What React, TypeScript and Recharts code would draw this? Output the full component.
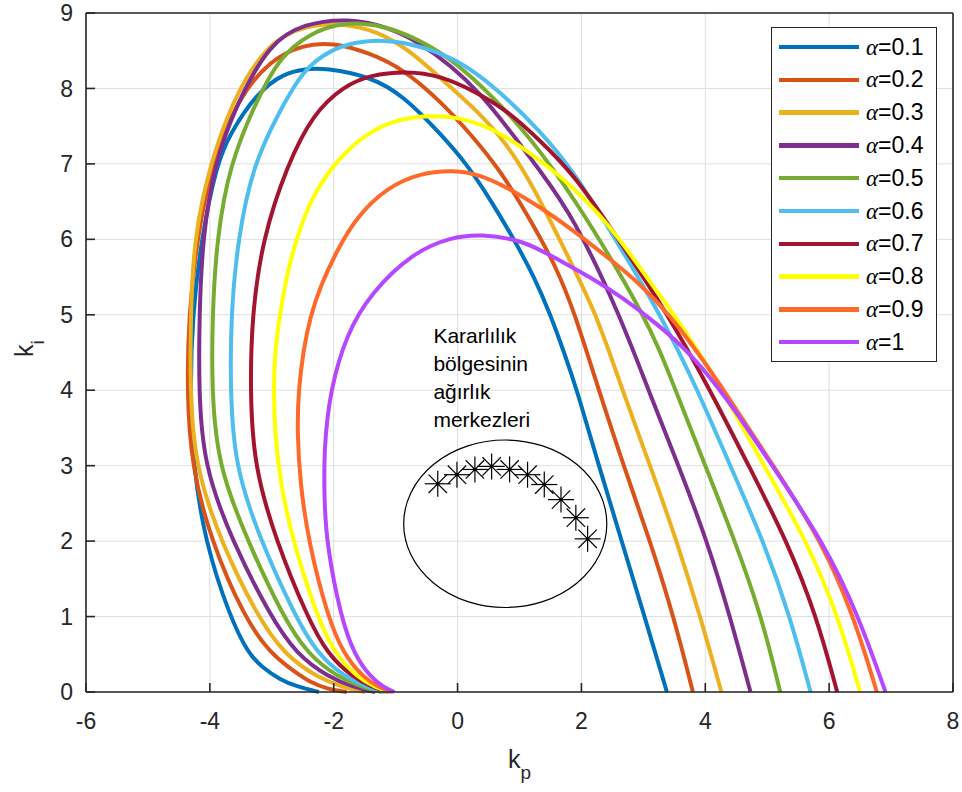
import React from 'react';
import {
  ComposedChart,
  Line,
  Scatter,
  XAxis,
  YAxis,
  CartesianGrid,
  ReferenceArea,
  ReferenceDot,
} from 'recharts';

type Pt = [number, number];

// stability boundaries, [kp, ki] pairs
const alpha01: Pt[] = [
  [-2.24, 0], [-2.59, 0.07], [-2.86, 0.16], [-3.16, 0.33], [-3.38, 0.51], [-3.68, 1.0], [-4.08, 2.0],
  [-4.27, 3.0], [-4.32, 4.0], [-4.28, 5.0], [-4.14, 6.0], [-3.89, 7.0], [-3.67, 7.41], [-3.24, 7.94],
  [-2.81, 8.2], [-2.45, 8.26], [-2.14, 8.27], [-1.41, 8.16], [-0.87, 7.9], [-0.3, 7.42], [0.15, 7.0],
  [0.55, 6.5], [0.91, 6.0], [1.24, 5.5], [1.5, 5.0], [1.72, 4.5], [1.93, 4.0], [2.28, 3.0], [2.65, 2.0],
  [3.02, 1.0], [3.38, 0],
];
const alpha02: Pt[] = [
  [-1.79, 0], [-2.11, 0.04], [-2.38, 0.13], [-2.6, 0.25], [-3.03, 0.51], [-3.45, 1.0], [-3.98, 2.0],
  [-4.3, 3.0], [-4.37, 4.0], [-4.34, 5.0], [-4.21, 6.0], [-3.97, 7.0], [-3.56, 7.85], [-3.03, 8.38],
  [-2.49, 8.58], [-2.03, 8.61], [-1.41, 8.47], [-0.87, 8.25], [-0.3, 7.85], [0.23, 7.38], [0.69, 6.91],
  [1.12, 6.34], [1.6, 5.63], [1.9, 5.0], [2.28, 4.0], [2.68, 3.0], [3.11, 2.0], [3.49, 1.0], [3.8, 0],
];
const alpha03: Pt[] = [
  [-1.49, 0], [-1.84, 0.06], [-2.28, 0.2], [-2.8, 0.5], [-3.23, 1.0], [-3.83, 2.0], [-4.24, 3.0],
  [-4.32, 4.0], [-4.31, 5.0], [-4.26, 6.0], [-4.0, 7.0], [-3.62, 7.85], [-3.24, 8.38], [-2.86, 8.7],
  [-2.33, 8.85], [-1.84, 8.86], [-1.3, 8.76], [-0.8, 8.52], [-0.28, 8.14], [0.26, 7.75], [0.8, 7.27],
  [1.23, 6.69], [1.76, 5.81], [2.25, 5.0], [2.66, 4.0], [3.11, 3.0], [3.54, 2.0], [3.92, 1.0], [4.26, 0],
];
const alpha04: Pt[] = [
  [-1.33, 0], [-1.67, 0.06], [-2.09, 0.2], [-2.6, 0.5], [-3.02, 1.0], [-3.64, 2.0],
  [-4.1, 3.0], [-4.18, 4.0], [-4.17, 5.0], [-4.12, 6.0], [-3.93, 7.0], [-3.54, 7.85], [-3.03, 8.6],
  [-2.49, 8.86], [-1.76, 8.93], [-1.14, 8.82], [-0.6, 8.6], [-0.1, 8.3], [0.37, 7.93], [0.8, 7.49],
  [1.33, 6.91], [1.87, 6.3], [2.62, 5.0], [3.08, 4.0], [3.57, 3.0], [4.03, 2.0], [4.4, 1.0], [4.73, 0],
];
const alpha05: Pt[] = [
  [-1.22, 0], [-1.54, 0.06], [-1.94, 0.2], [-2.42, 0.5], [-2.82, 1.0], [-3.39, 2.0],
  [-3.87, 3.0], [-3.97, 4.0], [-3.96, 5.0], [-3.89, 6.0], [-3.68, 7.0], [-3.24, 7.85], [-2.86, 8.43],
  [-2.38, 8.73], [-1.95, 8.85], [-1.57, 8.87], [-1.14, 8.82], [-0.55, 8.62], [-0.01, 8.34], [0.8, 7.71],
  [1.55, 6.95], [2.3, 6.0], [3.0, 5.0], [3.28, 4.5], [3.52, 4.0], [4.0, 3.0], [4.48, 2.0], [4.91, 1.0], [5.21, 0],
];
const alpha06: Pt[] = [
  [-1.17, 0], [-1.46, 0.06], [-1.82, 0.2], [-2.26, 0.5], [-2.62, 1.0], [-3.18, 2.0],
  [-3.6, 3.0], [-3.67, 4.0], [-3.66, 5.0], [-3.55, 6.0], [-3.3, 7.0], [-2.86, 7.72], [-2.49, 8.25],
  [-2.06, 8.51], [-1.63, 8.62], [-1.19, 8.64], [-0.76, 8.6], [-0.01, 8.4], [0.66, 7.98], [1.33, 7.44],
  [1.87, 6.91], [2.55, 6.0], [3.28, 5.0], [3.88, 4.0], [4.4, 3.0], [4.94, 2.0], [5.37, 1.0], [5.7, 0],
];
const alpha07: Pt[] = [
  [-1.11, 0], [-1.37, 0.06], [-1.7, 0.2], [-2.1, 0.5], [-2.43, 1.0], [-2.93, 2.0],
  [-3.29, 3.0], [-3.35, 4.0], [-3.32, 5.0], [-3.15, 6.0], [-2.76, 6.97], [-2.33, 7.67], [-1.84, 8.03],
  [-1.41, 8.18], [-0.82, 8.23], [-0.28, 8.17], [0.26, 7.97], [0.8, 7.71], [1.33, 7.31], [1.87, 6.87],
  [2.6, 6.0], [3.4, 5.0], [4.08, 4.0], [4.7, 3.0], [5.32, 2.0], [5.8, 1.0], [6.13, 0],
];
const alpha08: Pt[] = [
  [-1.09, 0], [-1.33, 0.06], [-1.62, 0.2], [-1.98, 0.5], [-2.27, 1.0], [-2.66, 2.0],
  [-2.86, 2.76], [-2.95, 3.42], [-2.97, 4.0], [-2.95, 4.53], [-2.86, 5.06], [-2.73, 5.63], [-2.6, 6.0],
  [-2.38, 6.53], [-1.95, 7.06], [-1.41, 7.45], [-0.87, 7.61], [-0.44, 7.64], [0.0, 7.62], [0.4, 7.52],
  [0.8, 7.36], [1.33, 7.05], [1.87, 6.69], [2.3, 6.32], [2.62, 6.0], [3.05, 5.5], [3.5, 5.0], [3.9, 4.5],
  [4.27, 4.0], [4.95, 3.0], [5.64, 2.0], [6.15, 1.0], [6.5, 0],
];
const alpha09: Pt[] = [
  [-1.06, 0], [-1.27, 0.06], [-1.53, 0.2], [-1.84, 0.5], [-2.1, 1.0], [-2.41, 2.0],
  [-2.54, 2.76], [-2.59, 3.43], [-2.57, 4.0], [-2.49, 4.53], [-2.38, 4.97], [-2.22, 5.37], [-1.95, 5.85],
  [-1.63, 6.3], [-1.14, 6.69], [-0.6, 6.88], [-0.06, 6.92], [0.35, 6.86], [0.8, 6.69], [1.33, 6.43],
  [1.87, 6.12], [2.41, 5.77], [2.95, 5.41], [3.42, 5.0], [3.88, 4.5], [4.3, 4.0], [5.1, 3.0], [5.88, 2.0],
  [6.4, 1.0], [6.77, 0],
];
const alpha10: Pt[] = [
  [-1.02, 0], [-1.19, 0.06], [-1.41, 0.2], [-1.67, 0.5], [-1.89, 1.0], [-2.12, 2.0],
  [-2.15, 2.54], [-2.16, 3.2], [-2.06, 4.0], [-1.79, 4.75], [-1.41, 5.28], [-0.72, 5.83], [-0.1, 6.03],
  [0.37, 6.07], [1.06, 5.99], [1.6, 5.74], [2.14, 5.5], [2.68, 5.22], [3.22, 4.88], [3.75, 4.5],
  [4.35, 3.9], [5.08, 3.0], [5.9, 2.0], [6.48, 1.0], [6.91, 0],
];

const alphaLabels = ['0.1', '0.2', '0.3', '0.4', '0.5', '0.6', '0.7', '0.8', '0.9', '1'];

// centres of gravity of the stability regions
const centroidKp = [-0.32, -0.01, 0.28, 0.55, 0.84, 1.13, 1.4, 1.67, 1.91, 2.1];
const centroidKi = [2.76, 2.88, 2.95, 2.99, 2.95, 2.88, 2.75, 2.55, 2.31, 2.03];

// bounds of the ellipse drawn round the centroids
const regionKp = [-0.87, 2.41];
const regionKi = [1.12, 3.34];

const noteLines = ['Kararlılık', 'bölgesinin', 'ağırlık', 'merkezleri'];

const kpTicks = [-6, -4, -2, 0, 2, 4, 6, 8];
const kiTicks = [0, 1, 2, 3, 4, 5, 6, 7, 8, 9];

const COLORS = [
  '#0072BD', '#D95319', '#EDB120', '#7E2F8E', '#77AC30',
  '#4DBEEE', '#A2142F', '#FFFF00', '#FF6929', '#B746FF',
];

const curves = [alpha01, alpha02, alpha03, alpha04, alpha05, alpha06, alpha07, alpha08, alpha09, alpha10];

const FONT = '"Liberation Sans", Arial, Helvetica, sans-serif';
const AXIS = '#262626';

const toPoints = (arr: Pt[]) => arr.map(([kp, ki]) => ({ kp, ki }));
const centroids = centroidKp.map((kp, i) => ({ kp, ki: centroidKi[i] }));

const Star = (props: any) => {
  const { cx, cy } = props;
  const a = 13;
  const d = 9.2;
  return (
    <g stroke="#000" strokeWidth={1.2}>
      <line x1={cx - a} y1={cy} x2={cx + a} y2={cy} />
      <line x1={cx} y1={cy - a} x2={cx} y2={cy + a} />
      <line x1={cx - d} y1={cy - d} x2={cx + d} y2={cy + d} />
      <line x1={cx - d} y1={cy + d} x2={cx + d} y2={cy - d} />
      <rect x={cx - 1.5} y={cy - 1.5} width={3} height={3} fill="#000" stroke="none" />
    </g>
  );
};

const renderXLabel = (props: any) => {
  const { x, y, width } = props.viewBox;
  return (
    <text x={x + width / 2} y={y + 76} textAnchor="middle" fill={AXIS} fontFamily={FONT}>
      <tspan fontSize={25}>k</tspan>
      <tspan fontSize={19} dy={11}>p</tspan>
    </text>
  );
};

const renderYLabel = (props: any) => {
  const { x, y, height } = props.viewBox;
  const cx = x + 33;
  const cy = y + height / 2 - 4;
  return (
    <text x={cx} y={cy} transform={`rotate(-90, ${cx}, ${cy})`} textAnchor="middle" fill={AXIS} fontFamily={FONT}>
      <tspan fontSize={25}>k</tspan>
      <tspan fontSize={19} dy={11}>i</tspan>
    </text>
  );
};

const LegendBox = () => (
  <div
    style={{
      position: 'absolute',
      left: 771,
      top: 27,
      width: 166,
      height: 335,
      border: '1px solid #262626',
      background: '#fff',
      boxSizing: 'border-box',
    }}
  >
    {alphaLabels.map((a, i) => (
      <div
        key={a}
        style={{
          position: 'absolute',
          left: 7,
          top: 19 + i * 32.8 - 16,
          height: 32,
          display: 'flex',
          alignItems: 'center',
        }}
      >
        <div style={{ width: 80, height: 4.5, background: COLORS[i] }} />
        <span style={{ marginLeft: 7, fontSize: 23, fontFamily: FONT, color: '#000', whiteSpace: 'nowrap' }}>
          <span style={{ fontFamily: '"Liberation Serif", "DejaVu Serif", serif', fontStyle: 'italic' }}>α</span>={a}
        </span>
      </div>
    ))}
  </div>
);

export default function App() {
  return (
    <div style={{ position: 'fixed', left: 0, top: 0, width: 962, height: 792, fontFamily: FONT, background: '#fff' }}>
      <ComposedChart width={962} height={792} margin={{ top: 0, right: 0, bottom: 0, left: 0 }}>
        <CartesianGrid stroke="#dfdfdf" strokeWidth={1} />
        <XAxis
          dataKey="kp"
          type="number"
          domain={[-6, 8]}
          ticks={kpTicks}
          interval={0}
          height={100}
          tickSize={-9}
          tickMargin={30}
          axisLine={{ stroke: AXIS, strokeWidth: 1.6 }}
          tickLine={{ stroke: AXIS, strokeWidth: 1.6 }}
          tick={{ fill: AXIS, fontSize: 23, fontFamily: FONT }}
          label={renderXLabel}
        />
        <XAxis
          xAxisId="top"
          orientation="top"
          type="number"
          domain={[-6, 8]}
          ticks={kpTicks}
          interval={0}
          height={13}
          tickSize={-9}
          tick={false}
          axisLine={{ stroke: AXIS, strokeWidth: 1.6 }}
          tickLine={{ stroke: AXIS, strokeWidth: 1.6 }}
        />
        <YAxis
          type="number"
          domain={[0, 9]}
          ticks={kiTicks}
          interval={0}
          width={86}
          tickSize={-9}
          tickMargin={22}
          axisLine={{ stroke: AXIS, strokeWidth: 1.6 }}
          tickLine={{ stroke: AXIS, strokeWidth: 1.6 }}
          tick={{ fill: AXIS, fontSize: 23, fontFamily: FONT }}
          label={renderYLabel}
        />
        <YAxis
          yAxisId="right"
          orientation="right"
          type="number"
          domain={[0, 9]}
          ticks={kiTicks}
          interval={0}
          width={9}
          tickSize={-9}
          tick={false}
          axisLine={{ stroke: AXIS, strokeWidth: 1.6 }}
          tickLine={{ stroke: AXIS, strokeWidth: 1.6 }}
        />
        {curves.map((c, i) => (
          <Line
            key={alphaLabels[i]}
            data={toPoints(c)}
            dataKey="ki"
            type="basis"
            stroke={COLORS[i]}
            strokeWidth={4}
            dot={false}
            activeDot={false}
            isAnimationActive={false}
          />
        ))}
        <ReferenceArea
          x1={regionKp[0]}
          x2={regionKp[1]}
          y1={regionKi[0]}
          y2={regionKi[1]}
          shape={(p: any) => (
            <ellipse
              cx={p.x + p.width / 2}
              cy={p.y + p.height / 2}
              rx={Math.abs(p.width) / 2}
              ry={Math.abs(p.height) / 2}
              fill="none"
              stroke="#000"
              strokeWidth={1.2}
            />
          )}
        />
        <Scatter data={centroids} dataKey="ki" shape={Star} isAnimationActive={false} />
        <ReferenceDot
          x={-0.39}
          y={4.62}
          r={1}
          shape={(p: any) => (
            <text x={p.cx} y={p.cy} fontSize={21} fill="#000" fontFamily={FONT}>
              {noteLines.map((t, i) => (
                <tspan key={t} x={p.cx} dy={i === 0 ? 0 : 27.8}>
                  {t}
                </tspan>
              ))}
            </text>
          )}
        />
      </ComposedChart>
      <LegendBox />
    </div>
  );
}
